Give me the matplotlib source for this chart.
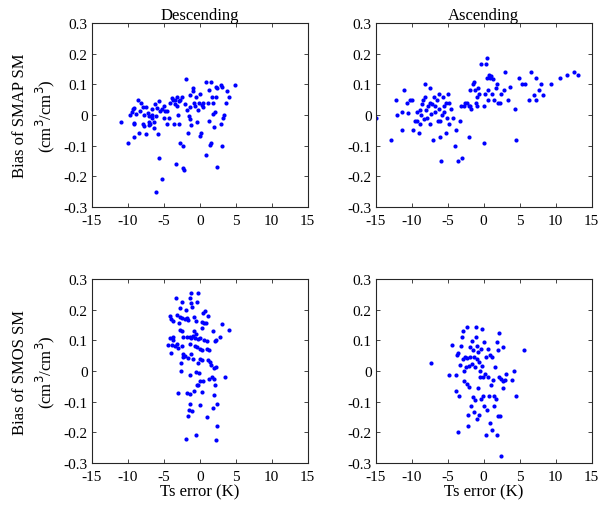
import numpy as np
import matplotlib
matplotlib.use("Agg")
import matplotlib.pyplot as plt

plt.rcParams['font.family'] = ['Liberation Serif', 'DejaVu Serif']
plt.rcParams['axes.unicode_minus'] = False

# SMAP, descending overpass
desc_smap_x = [-11.0, -9.95, -9.2, -9.7, -9.4, -9.3, -9.1, -9.2, -8.9, -8.6, -8.4, -8.3, -8.1,
               -7.9, -7.8, -7.45, -7.4, -7.2, -7.1, -7.0, -6.9, -6.7, -6.6, -6.4, -6.2, -6.3,
               -6.1, -6.0, -5.8, -5.7, -5.6, -5.5, -5.2, -6.1, -5.0, -4.9, -4.6, -4.6, -4.3,
               -4.1, -3.9, -3.7, -3.6, -3.5, -3.4, -3.3, -3.2, -3.05, -2.9, -2.8, -2.7, -2.45,
               -2.3, -2.3, -2.2, -2.0, -1.9, -1.75, -1.6, -1.5, -1.4, -1.3, -1.2, -1.0, -0.9,
               -0.75, -0.6, -0.5, -0.4, -0.3, -0.1, 0.05, 0.2, 0.1, 0.3, 0.5, 0.9, 0.9, 1.15,
               1.25, 1.3, 1.4, 1.5, 1.5, 1.7, 1.8, 1.9, 1.95, 2.1, 2.2, 2.3, 2.35, 2.4, 2.95,
               3.0, 3.05, 3.15, 3.3, 3.4, 3.65, 3.75, 4.0, 4.95,
               -9.1, -7.9, -7.7, -6.7, -7.1, -5.3, -4.8, -3.1, -2.9, -1.3, 0.45]
desc_smap_y = [-0.022, -0.091, -0.07, 0.0, 0.01, 0.02, 0.022, -0.03, 0.003, 0.049, -0.06, 0.014,
               0.038, -0.03, -0.037, -0.062, 0.027, 0.007, -0.023, -0.003, -0.03, -0.01, 0.02,
               -0.022, 0.036, -0.042, -0.004, 0.023, -0.062, -0.14, 0.047, 0.012, -0.21, -0.25,
               -0.01, 0.028, -0.03, 0.012, -0.01, 0.039, 0.055, 0.049, -0.03, 0.036, 0.049,
               -0.16, 0.028, 0.0, -0.03, -0.09, 0.049, 0.058, -0.1, -0.173, -0.18, 0.036, 0.118,
               0.018, -0.06, -0.003, -0.012, 0.066, -0.033, 0.079, 0.088, 0.038, 0.029, 0.058,
               -0.023, 0.018, 0.039, -0.067, -0.059, 0.068, 0.034, 0.039, -0.13, 0.109, 0.038,
               -0.02, 0.082, -0.097, -0.09, 0.109, 0.058, 0.039, 0.003, -0.04, 0.009, 0.09,
               0.058, -0.17, 0.088, 0.099, -0.03, -0.1, 0.09, -0.01, 0.0, 0.039, 0.077, 0.058,
               0.098,
               -0.026, 0.027, 0.0, 0.001, -0.034, 0.021, 0.012, 0.058, 0.045, 0.027, 0.027]

# SMAP, ascending overpass
asc_smap_x = [-14.95, -12.9, -12.2, -12.1, -11.4, -11.1, -11.35, -10.6, -10.45, -10.3, -9.95,
              -9.8, -9.5, -9.3, -9.2, -9.0, -8.9, -8.8, -8.7, -8.6, -8.4, -8.3, -8.2, -8.1,
              -8.0, -7.9, -7.7, -7.5, -7.45, -7.4, -7.3, -7.2, -7.0, -6.9, -6.75, -6.7, -6.5,
              -6.4, -6.25, -6.15, -6.1, -6.0, -5.9, -5.8, -5.65, -5.55, -5.45, -5.3, -5.2,
              -5.1, -4.95, -4.85, -4.8, -4.6, -4.2, -4.0, -3.85, -3.6, -3.25, -3.1, -2.95,
              -2.8, -2.6, -2.3, -2.1, -2.1, -1.95, -1.85, -1.7, -1.45, -1.3, -1.2, -1.05,
              -0.95, -0.9, -0.75, -0.6, -0.35, 0.0, 0.1, 0.2, 0.3, 0.4, 0.4, 0.55, 0.65, 0.75,
              0.9, 1.0, 1.1, 1.3, 1.5, 1.7, 1.8, 2.0, 2.25, 2.35, 2.9, 2.8, 3.4, 3.65,
              4.3, 4.5, 4.9, 5.3, 5.8, 6.3, 6.6, 7.0, 7.3, 7.3, 7.7, 8.0, 8.2, 9.4, 10.6,
              11.6, 12.6, 13.1]
asc_smap_y = [-0.01, -0.08, 0.05, 0.0, -0.05, 0.08, 0.011, 0.04, 0.007, 0.05, 0.05, -0.05, -0.02,
              0.01, -0.02, -0.06, -0.03, 0.018, 0.0, 0.037, 0.05, -0.013, 0.1, 0.06, 0.017,
              -0.009, 0.028, 0.089, 0.039, -0.03, 0.002, 0.035, -0.082, 0.06, 0.028, 0.01, 0.05,
              -0.02, 0.07, 0.02, -0.07, -0.02, -0.15, 0.0, 0.06, 0.03, 0.01, 0.039, -0.06,
              -0.009, 0.07, 0.039, -0.03, 0.02, -0.009, -0.1, -0.05, -0.15, -0.02, 0.03, -0.14,
              0.03, 0.038, 0.039, -0.07, 0.028, 0.08, 0.03, 0.02, 0.1, 0.109, 0.08, 0.039,
              0.059, 0.03, 0.089, 0.067, 0.167, -0.09, 0.03, 0.07, 0.167, 0.187, 0.122, 0.08,
              0.048, 0.13, 0.122, 0.126, 0.07, 0.117, 0.05, 0.089, 0.1, 0.038, 0.04, 0.07,
              0.139, 0.08, 0.05, 0.09,
              0.02, -0.08, 0.12, 0.1, 0.1, 0.05, 0.14, 0.065, 0.12, 0.05, 0.08, 0.1, 0.066,
              0.1, 0.12, 0.13, 0.14, 0.13]

# SMOS, descending overpass
desc_smos_x = [-1.25, -0.3, -3.3, -2.45, -1.35, -1.2, -0.4, -1.1, -2.7, -1.95, 0.75, 0.5, -4.1,
               -3.95, -3.65, -3.1, -2.7, -2.4, -2.1, -1.8, -1.6, -2.85, -0.75, -0.5, 0.3, 0.6,
               0.9, 1.1, 0.3, -2.8, -2.5, -0.8, -0.5, 1.9, 3.05, 4.1, 2.8, 2.25, 2.1, -4.1,
               -3.65, -3.75, -2.35, -1.8, -1.35, -1.0, -1.15, -0.65, -0.3, 0.05, 0.65, 1.05,
               -4.45, -3.85, -3.4, -3.1, -3.0, -3.95, -2.45, -1.35, -0.65, -0.4, 0.0, 0.3, 0.95,
               1.35, -2.35, -2.0, -1.65, -2.3, -1.2, -0.9, -0.3, 0.05, 0.3, 1.2, 1.45, 1.6,
               1.95, 2.25, -2.55, -2.6, -1.35, -0.5, -0.15, 0.4, 0.05, 1.25, 1.7, 1.95, 2.1,
               3.55, -0.4, -0.2, -3.0, -1.8, -1.35, -0.8, 0.3, 1.95, -1.35, 0.0, 2.35, -1.5,
               -1.1, 1.8, -1.6, 0.95, 2.35, -0.5, -1.95, 2.2]
desc_smos_y = [0.254, 0.254, 0.238, 0.226, 0.237, 0.223, 0.224, 0.209, 0.205, 0.198, 0.195,
               0.188, 0.178, 0.17, 0.164, 0.184, 0.175, 0.172, 0.168, 0.172, 0.166, 0.158,
               0.176, 0.162, 0.159, 0.158, 0.156, 0.181, 0.14, 0.133, 0.13, 0.129, 0.12, 0.131,
               0.154, 0.135, 0.112, 0.101, 0.099, 0.107, 0.112, 0.1, 0.11, 0.11, 0.11, 0.115,
               0.107, 0.109, 0.103, 0.107, 0.101, 0.098, 0.086, 0.085, 0.082, 0.088, 0.074,
               0.059, 0.082, 0.087, 0.082, 0.077, 0.071, 0.068, 0.071, 0.067, 0.054, 0.049,
               0.043, 0.045, 0.056, 0.038, 0.027, 0.038, 0.035, 0.037, 0.03, 0.021, 0.011,
               0.013, 0.027, -0.001, -0.012, -0.003, -0.005, -0.032, -0.032, -0.026, -0.02,
               -0.027, -0.047, -0.019, -0.044, -0.047, -0.073, -0.071, -0.074, -0.066, -0.068,
               -0.078, -0.109, -0.11, -0.109, -0.126, -0.13, -0.12, -0.146, -0.15, -0.179,
               -0.209, -0.223, -0.226]

# SMOS, ascending overpass
asc_smos_x = [-7.3, -4.85, -4.45, -3.85, -3.8, -3.7, -3.5, -3.4, -3.5, -3.25, -3.15, -2.95,
              -2.85, -2.85, -2.8, -2.8, -2.6, -2.5, -2.35, -2.3, -2.25, -2.2, -2.15, -2.1,
              -2.0, -1.95, -1.85, -1.75, -1.65, -1.65, -1.5, -1.45, -1.35, -1.3, -1.25, -1.2,
              -1.05, -1.0, -0.95, -0.9, -0.9, -0.8, -0.75, -0.7, -0.65, -0.55, -0.45, -0.4,
              -0.35, -0.25, -0.2, -0.1, -0.05, 0.0, 0.1, 0.2, 0.3, 0.3, 0.45, 0.55, 0.65, 0.7,
              0.85, 0.95, 1.0, 1.1, 1.2, 1.3, 1.4, 1.5, 1.55, 1.65, 1.8, 1.85, 1.95, 2.05,
              2.15, 2.2, 2.3, 2.4, 2.45, 2.65, 2.7, 2.95, 3.15, 2.65,
              3.9, 4.2, 4.5, 5.6]
asc_smos_y = [0.025, -0.014, 0.086, -0.014, -0.066, 0.052, 0.058, -0.08, -0.2, 0.021, 0.082,
              0.111, 0.129, 0.04, 0.001, -0.032, 0.045, 0.012, 0.145, 0.041, -0.042, -0.142,
              -0.179, -0.053, 0.016, 0.078, 0.045, -0.113, 0.098, 0.022, 0.068, -0.084, 0.045,
              -0.133, 0.012, -0.095, 0.112, 0.145, -0.155, 0.082, 0.038, -0.054, 0.063, 0.03,
              -0.142, 0.001, -0.02, 0.071, -0.091, 0.138, 0.016, -0.021, -0.08, 0.096, -0.113,
              -0.009, -0.21, 0.045, -0.126, -0.02, 0.071, -0.08, -0.168, 0.052, -0.047, 0.045,
              -0.192, -0.03, -0.08, -0.113, 0.013, -0.091, 0.096, -0.208, 0.068, -0.146, 0.124,
              -0.02, -0.148, -0.276, -0.025, 0.079, -0.031, -0.03, -0.01, -0.055,
              -0.03, 0.0, -0.08, 0.07]

panels = [
    (desc_smap_x, desc_smap_y),
    (asc_smap_x, asc_smap_y),
    (desc_smos_x, desc_smos_y),
    (asc_smos_x, asc_smos_y),
]
titles = ["Descending", "Ascending"]
ylabels = ["Bias of SMAP SM\n(cm$^3$/cm$^3$)", "Bias of SMOS SM\n(cm$^3$/cm$^3$)"]
xticks = [-15, -10, -5, 0, 5, 10, 15]
yticks = [-0.3, -0.2, -0.1, 0, 0.1, 0.2, 0.3]
ytick_labels = ["-0.3", "-0.2", "-0.1", "0", "0.1", "0.2", "0.3"]

fig = plt.figure(figsize=(6.08, 5.10), dpi=100)
lefts = [0.151, 0.618]
bottoms = [0.592, 0.090]
w, h = 0.355, 0.361

for i, (xs, ys) in enumerate(panels):
    row, col = divmod(i, 2)
    ax = fig.add_axes([lefts[col], bottoms[row], w, h])
    ax.plot(xs, ys, 'o', color=(0, 0, 1), markersize=3.0, markeredgewidth=0)
    ax.set_xlim(-15, 15)
    ax.set_ylim(-0.3, 0.3)
    ax.set_xticks(xticks)
    ax.set_xticklabels([str(t) for t in xticks])
    ax.set_yticks(yticks)
    ax.set_yticklabels(ytick_labels)
    ax.tick_params(direction='in', length=3, width=0.6, top=True, right=True,
                   labelsize=11, colors='#262626', labelcolor='black')
    ax.tick_params(axis='x', pad=5)
    ax.tick_params(axis='y', pad=3)
    for sp in ax.spines.values():
        sp.set_color('#262626')
        sp.set_linewidth(0.8)
    if row == 0:
        ax.set_title(titles[col], fontsize=12, pad=3)
    else:
        ax.set_xlabel("Ts error (K)", fontsize=12, labelpad=0)
    if col == 0:
        ax.set_ylabel(ylabels[row], fontsize=12, labelpad=5, linespacing=1.3)

fig.savefig("out.png", dpi=100)
